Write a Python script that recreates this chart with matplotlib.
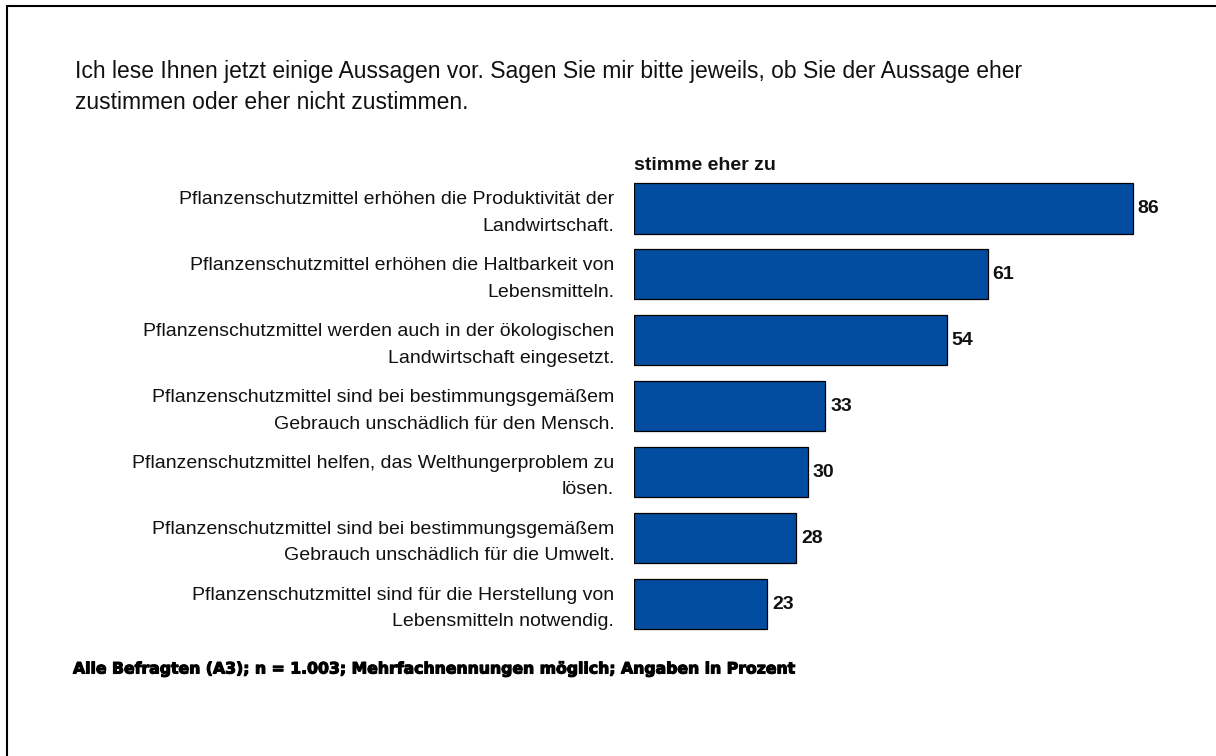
import matplotlib.pyplot as plt
import matplotlib.patheffects as pe
from matplotlib.patches import Rectangle

plt.rcParams['font.family'] = ['Liberation Sans', 'DejaVu Sans']

statements = [
    "Pflanzenschutzmittel erhöhen die Produktivität der\nLandwirtschaft.",
    "Pflanzenschutzmittel erhöhen die Haltbarkeit von\nLebensmitteln.",
    "Pflanzenschutzmittel werden auch in der ökologischen\nLandwirtschaft eingesetzt.",
    "Pflanzenschutzmittel sind bei bestimmungsgemäßem\nGebrauch unschädlich für den Mensch.",
    "Pflanzenschutzmittel helfen, das Welthungerproblem zu\nlösen.",
    "Pflanzenschutzmittel sind bei bestimmungsgemäßem\nGebrauch unschädlich für die Umwelt.",
    "Pflanzenschutzmittel sind für die Herstellung von\nLebensmitteln notwendig.",
]
agree = [86, 61, 54, 33, 30, 28, 23]

title = ("Ich lese Ihnen jetzt einige Aussagen vor. Sagen Sie mir bitte jeweils, ob Sie der Aussage eher\n"
         "zustimmen oder eher nicht zustimmen.")
series_name = "stimme eher zu"
note = "Alle Befragten (A3); n = 1.003; Mehrfachnennungen möglich; Angaben in Prozent"

W, H = 1216, 756
fig = plt.figure(figsize=(W / 100, H / 100), dpi=100)
fig.patch.set_facecolor("white")

# frame: only left and top edges fall inside the canvas
fig.add_artist(Rectangle((7 / W, -0.05), 1.2, 1 - 6 / H + 0.05, transform=fig.transFigure,
                         fill=False, edgecolor="black", linewidth=1.5))

ax = fig.add_axes([634 / W, 1 - 637 / H, 580 / W, (637 - 175.5) / H])
pos = list(range(len(agree)))
ax.barh(pos, agree, height=0.76, color="#034DA1", edgecolor="black", linewidth=0.9)
ax.set_xlim(0, 100)
ax.set_ylim(len(agree) - 0.5, -0.5)
ax.axis("off")

for i, (lab, v) in enumerate(zip(statements, agree)):
    ax.text(-3.4, i + 0.07, lab, ha="right", va="center", fontsize=14,
            linespacing=1.72, color="#111111")
    ax.text(v + 0.8, i, str(v), ha="left", va="center", fontsize=14,
            fontweight="bold", color="#111111")

ax.text(0, -0.58, series_name, ha="left", va="baseline", fontsize=14,
        fontweight="bold", color="#111111")

fig.text(75 / W, 1 - 60 / H, title, ha="left", va="top", fontsize=16.5,
         linespacing=1.45, color="#111111")

fig.text(73 / W, 1 - 669 / H, note, ha="left", va="center", fontsize=11.3,
         fontweight="bold", color="black", family=["DejaVu Sans"],
         path_effects=[pe.withStroke(linewidth=0.8, foreground="black")])

fig.savefig("out.png", dpi=100, facecolor="white")
